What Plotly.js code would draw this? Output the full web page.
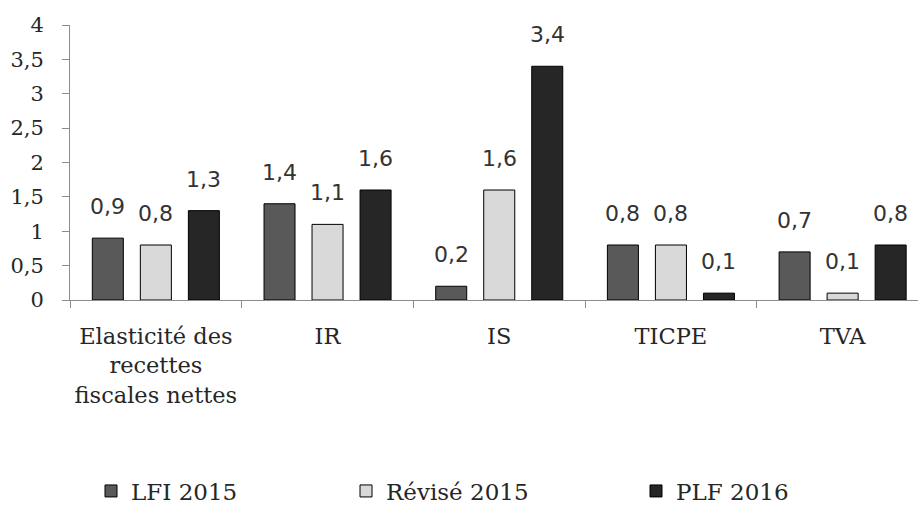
<!DOCTYPE html>
<html>
<head>
<meta charset="utf-8">
<script src="https://cdn.plot.ly/plotly-3.0.1.min.js"></script>
<style>
  html, body { margin: 0; padding: 0; background: #fff; }
  #chart { width: 918px; height: 519px; }
</style>
</head>
<body>
<div id="chart"></div>
<script>
// Categories (multi-line labels) and the three series of elasticities
const categories = [
  "Elasticité des<br>recettes<br>fiscales nettes",
  "IR",
  "IS",
  "TICPE",
  "TVA"
];
const seriesNames = ["LFI 2015", "Révisé 2015", "PLF 2016"];
const lfi2015 = [0.9, 1.4, 0.2, 0.8, 0.7];
const revise2015 = [0.8, 1.1, 1.6, 0.8, 0.1];
const plf2016 = [1.3, 1.6, 3.4, 0.1, 0.8];
const yTickVals = [0, 0.5, 1, 1.5, 2, 2.5, 3, 3.5, 4];
const yTickText = ["0", "0,5", "1", "1,5", "2", "2,5", "3", "3,5", "4"];

const seriesValues = [lfi2015, revise2015, plf2016];
const fills = ["#595959", "#d9d9d9", "#262626"];
const serif = "DejaVu Serif, serif";
const sans = "DejaVu Sans, sans-serif";
const textColor = "#262626";

const BARGAP = 0.161;
const slot = (1 - BARGAP) / 3;

const fmt = v => v.toFixed(1).replace(".", ",");

const traces = seriesValues.map((vals, s) => ({
  type: "bar",
  name: seriesNames[s],
  x: categories,
  y: vals,
  marker: { color: fills[s], line: { color: "#000", width: 1 } },
  legend: s === 0 ? "legend" : "legend" + (s + 1),
  hoverinfo: "skip"
}));

// value labels sitting above each bar
const annotations = [];
seriesValues.forEach((vals, s) => {
  vals.forEach((v, i) => {
    annotations.push({
      xref: "x", yref: "y",
      x: i + (s - 1) * slot,
      y: v,
      yshift: 17,
      yanchor: "bottom",
      text: fmt(v),
      showarrow: false,
      font: { family: sans, size: 22, color: "#333" }
    });
  });
});

const legendBase = {
  orientation: "h",
  xref: "container", yref: "container",
  xanchor: "left", yanchor: "middle",
  y: 1 - 491 / 519,
  font: { family: serif, size: 23, color: textColor },
  bgcolor: "rgba(0,0,0,0)",
  itemwidth: 30
};

const layout = {
  width: 918,
  height: 519,
  margin: { l: 70, r: 0, t: 25, b: 219 },
  paper_bgcolor: "#fff",
  plot_bgcolor: "#fff",
  barmode: "group",
  bargap: BARGAP,
  bargroupgap: 0.354,
  showlegend: true,
  legend: Object.assign({}, legendBase, { x: 91 / 918 }),
  legend2: Object.assign({}, legendBase, { x: 346 / 918 }),
  legend3: Object.assign({}, legendBase, { x: 636 / 918 }),
  xaxis: {
    type: "category",
    range: [-0.5, 4.439],
    showline: true,
    linecolor: "#8c8c8c",
    linewidth: 1,
    ticks: "outside",
    tickson: "boundaries",
    ticklen: 7,
    tickcolor: "#8c8c8c",
    showgrid: false,
    zeroline: false,
    ticklabelstandoff: 16,
    tickfont: { family: serif, size: 22.5, color: textColor }
  },
  yaxis: {
    range: [0, 4],
    tickvals: yTickVals,
    ticktext: yTickText,
    showline: true,
    linecolor: "#8c8c8c",
    linewidth: 1,
    ticks: "outside",
    ticklen: 7,
    tickcolor: "#8c8c8c",
    showgrid: false,
    zeroline: false,
    ticklabelstandoff: 14,
    tickfont: { family: serif, size: 21, color: textColor }
  },
  annotations: annotations
};

Plotly.newPlot("chart", traces, layout, { displayModeBar: false, staticPlot: true });
</script>
</body>
</html>
